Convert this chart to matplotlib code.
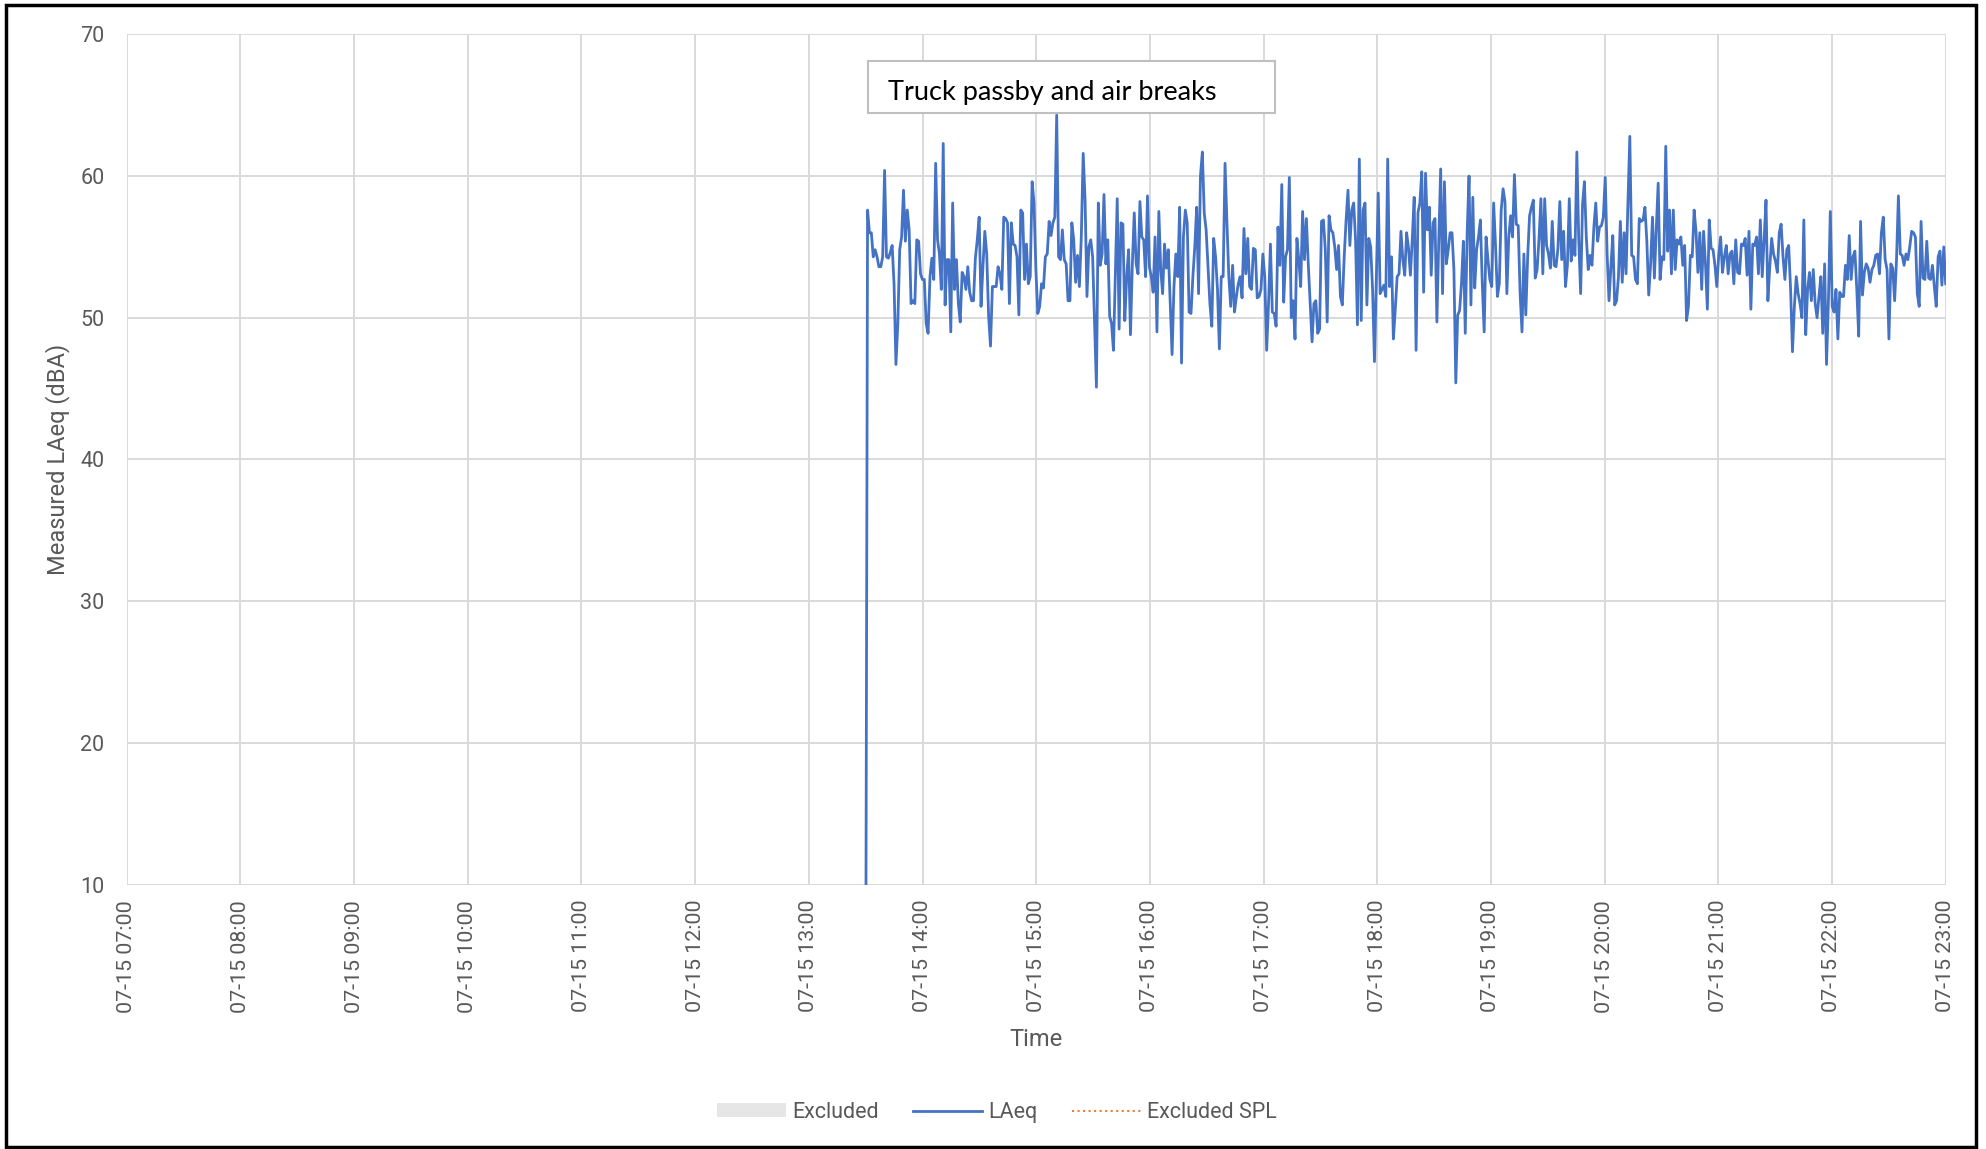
import numpy as np
import pandas as pd
import matplotlib
matplotlib.use('Agg')
import matplotlib.pyplot as plt
import matplotlib.dates as mdates
from matplotlib.patches import Rectangle, Patch
from matplotlib.lines import Line2D

# LAeq readings, 1 minute apart, from 13:30 to 23:00
laeq_1330 = [0, 57.6, 56.0, 56.0, 54.3, 54.8, 54.3, 53.6, 53.6, 54.3,
             60.4, 54.3, 54.2, 54.6, 55.1, 52.4, 46.7, 49.6, 54.8, 55.7,
             59.0, 55.4, 57.6, 56.2, 51.0, 51.2, 51.0, 55.5, 55.4, 53.1,
             52.7, 52.7, 49.6, 48.9, 52.9, 54.2, 52.7, 60.9, 55.5, 54.5,
             52.0, 62.3, 50.9, 54.1, 54.1, 49.0, 58.1, 52.0, 54.1, 51.0,
             49.7, 53.2, 52.9, 52.0, 53.6, 51.8, 51.2, 51.2, 54.2, 55.5,
             57.1, 50.8, 53.6, 56.1, 54.5, 50.1, 48.0, 52.2, 52.2, 52.2,
             53.6, 53.1, 52.0, 57.1, 57.0, 56.7, 51.0, 56.7, 55.2, 55.1,
             54.3, 50.2, 57.6, 57.4, 52.7, 55.2, 52.4, 52.9, 59.6, 58.1,
             53.4, 50.3, 50.8, 52.4, 52.1, 54.3]
laeq_1505 = [54.5, 56.8, 55.8, 56.7, 57.1, 64.3, 54.3, 54.1, 56.2, 54.1,
             53.8, 51.2, 51.2, 56.7, 55.5, 52.5, 54.4, 52.2, 55.7, 61.6,
             58.3, 51.5, 55.0, 55.5, 54.3, 49.6, 45.1, 58.1, 53.7, 54.5,
             58.7, 53.8, 55.5, 50.1, 49.6, 47.7, 52.9, 58.4, 49.2, 56.7,
             56.6, 49.8, 52.9, 54.8, 48.8, 53.8, 57.4, 53.8, 53.1, 58.2,
             55.7, 55.5, 52.9, 58.6, 53.6, 52.9, 51.8, 55.7, 49.0, 57.5,
             53.4, 51.7, 55.2, 53.5, 54.8, 51.2, 47.4, 52.2, 54.5, 52.9,
             57.8, 46.8, 55.7, 57.6, 56.7, 50.4, 50.3, 52.9, 55.0, 57.8,
             51.7, 60.0, 61.7, 57.4, 56.2, 53.6, 51.0, 49.4, 55.6, 54.3,
             52.0, 47.8, 52.9, 52.9, 60.9, 56.7, 52.9, 50.8]
laeq_1645 = [53.7, 50.4, 51.5, 52.4, 52.9, 51.4, 56.3, 53.1, 55.6, 52.2,
             52.0, 54.9, 54.8, 51.4, 51.5, 52.0, 54.5, 52.9, 47.7, 51.0,
             55.2, 50.4, 50.3, 49.4, 56.4, 53.7, 59.4, 51.1, 54.3, 54.8,
             59.9, 50.0, 51.2, 48.5, 55.6, 54.1, 52.2, 57.5, 54.1, 57.0,
             53.8, 51.0, 48.3, 51.0, 51.2, 48.9, 49.2, 56.8, 56.9, 54.8,
             49.7, 57.2, 56.2, 56.0, 55.0, 53.4, 55.1, 51.5, 50.9, 54.3,
             56.9, 59.0, 55.1, 57.6, 58.1, 55.5, 49.5, 61.2, 49.8, 57.6,
             58.1, 50.9, 55.6, 55.0, 52.0, 46.9, 52.9, 58.8, 51.7, 52.0,
             52.3, 51.5, 61.2, 52.2, 54.3, 48.5, 50.6, 52.9, 53.1, 56.1,
             54.1, 53.0, 56.0, 54.9, 53.0, 55.6, 58.5]
laeq_1820 = [47.7, 57.4, 58.1, 60.3, 51.8, 60.2, 56.2, 57.8, 53.0, 56.7,
             57.0, 49.7, 55.5, 60.5, 51.7, 59.6, 53.8, 54.8, 56.0, 56.0,
             53.4, 45.4, 50.2, 50.5, 52.4, 55.4, 48.9, 56.0, 60.0, 50.9,
             58.5, 52.1, 54.8, 55.7, 56.9, 52.4, 49.0, 55.7, 54.1, 52.7,
             52.2, 58.1, 55.1, 51.5, 52.4, 57.6, 59.1, 58.2, 51.7, 55.7,
             57.2, 55.7, 60.1, 56.6, 56.5, 51.7, 49.0, 54.5, 50.2, 54.3,
             57.2, 57.8, 58.3, 52.8, 53.4, 55.6, 58.4, 53.1, 58.4, 55.1,
             54.5, 53.5, 56.8, 53.7, 53.6, 54.9, 58.2, 54.1, 56.1, 52.2,
             53.7, 58.4, 54.0, 55.5, 54.4, 61.7, 55.5, 51.7, 58.0, 59.6,
             55.7, 53.4, 54.4, 53.7, 56.4, 58.1, 55.4, 56.4]
laeq_1955 = [56.5, 57.1, 59.9, 54.5, 51.2, 53.6, 55.8, 50.9, 51.2, 52.9,
             56.8, 52.5, 56.0, 53.1, 58.1, 62.8, 54.4, 54.3, 52.7, 52.4,
             57.0, 56.8, 56.9, 57.8, 55.4, 51.6, 53.8, 57.1, 52.8, 56.3,
             59.5, 52.7, 54.3, 54.1, 62.1, 54.7, 57.6, 53.1, 57.6, 53.4,
             55.5, 55.2, 55.7, 53.7, 55.1, 49.8, 50.8, 54.4, 54.3, 57.6,
             56.1, 53.2, 56.0, 52.0, 56.1, 53.8, 50.6, 56.9, 54.9, 54.8,
             53.7, 52.2, 54.4, 55.7, 53.2, 54.3, 55.1, 53.1, 54.5, 54.7,
             52.4, 55.5, 53.2, 53.1, 55.2, 55.1, 55.6, 53.0, 56.1, 50.6,
             55.2, 55.1, 55.7, 53.1, 56.9, 52.9, 55.5, 58.3, 51.2, 53.6,
             55.6, 54.5, 54.0, 53.2, 56.0, 56.6, 54.3]
laeq_2135 = [52.7, 54.8, 55.1, 52.0, 47.6, 50.8, 52.9, 51.7, 51.0, 50.0,
             56.9, 48.8, 52.0, 53.2, 51.2, 53.4, 51.0, 50.0, 51.5, 52.9,
             48.9, 53.8, 46.7, 51.2, 57.5, 50.8, 50.4, 52.0, 48.5, 51.8,
             51.5, 51.5, 53.7, 52.7, 55.8, 52.7, 54.3, 54.7, 52.0, 48.7,
             56.8, 51.6, 53.2, 53.8, 53.5, 52.5, 53.4, 53.7, 54.4, 54.5,
             53.1, 56.0, 57.1, 54.1, 53.4, 48.5, 53.8, 53.5, 51.2, 54.1,
             58.6, 54.5, 54.4, 53.7, 54.5, 54.1, 55.0, 56.1, 56.0, 55.7,
             51.7, 50.8, 56.8, 52.8, 52.7, 55.4, 52.8, 52.7, 53.7, 52.2,
             50.8, 54.3, 54.7, 52.3, 55.0, 52.4]

laeq = np.array(laeq_1330 + laeq_1505 + laeq_1645 + laeq_1820 + laeq_1955 + laeq_2135)
times = pd.date_range('2021-07-15 13:30', '2021-07-15 23:00', periods=len(laeq))

x_start = pd.Timestamp('2021-07-15 07:00')
x_end = pd.Timestamp('2021-07-15 23:00')

grey = '#595959'
plt.rcParams['font.family'] = ['Roboto', 'DejaVu Sans']

fig = plt.figure(figsize=(19.86, 11.49), dpi=100)
ax = fig.add_axes([0.0638, 0.2302, 0.9159, 0.7399])

ax.plot(times, laeq, color='#4472C4', lw=2.0, zorder=3)

ax.set_xlim(x_start, x_end)
ax.set_ylim(10, 70)
ax.set_yticks(range(10, 71, 10))
ax.xaxis.set_major_locator(mdates.HourLocator())
ax.xaxis.set_major_formatter(mdates.DateFormatter('%m-%d %H:%M'))
ax.grid(True, color='#d9d9d9', lw=1.4, zorder=0)
ax.set_axisbelow(True)
for s in ax.spines.values():
    s.set_visible(False)
ax.tick_params(axis='y', length=0, pad=16, labelcolor=grey, labelsize=15.5)
ax.tick_params(axis='x', length=0, pad=11, labelcolor=grey, labelsize=15.4, labelrotation=90)

# annotation box
ax.add_patch(Rectangle((0.4073, 0.9078), 0.2242, 0.061, transform=ax.transAxes,
                       fc='white', ec='#bfbfbf', lw=1.5, zorder=5, clip_on=False))
ax.text(0.4185, 0.932, 'Truck passby and air breaks', transform=ax.transAxes,
        ha='left', va='center', fontsize=19.5, color='black', family=['Lato', 'DejaVu Sans'],
        zorder=6)

fig.text(0.5217, 0.0957, 'Time', ha='center', va='center', fontsize=17, color=grey)
fig.text(0.0292, 0.6005, 'Measured LAeq (dBA)', ha='center', va='center',
         rotation=90, fontsize=17, color=grey)

handles = [Patch(fc='#e6e6e6', ec='none'),
           Line2D([], [], color='#4472C4', lw=2.0),
           Line2D([], [], color='#ED7D31', lw=1.5, ls=':')]
leg = fig.legend(handles, ['Excluded', 'LAeq', 'Excluded SPL'], loc='center',
                 bbox_to_anchor=(0.502, 0.032), ncol=3, frameon=False, fontsize=15.5,
                 handlelength=3.2, handleheight=0.6, columnspacing=1.6, handletextpad=0.3)
for t in leg.get_texts():
    t.set_color(grey)

# outer frame
fig.add_artist(Rectangle((0.0028, 0.0017), 0.9922, 0.9939, transform=fig.transFigure,
                         fill=False, ec='black', lw=2.5))

fig.savefig('out.png', dpi=100)
